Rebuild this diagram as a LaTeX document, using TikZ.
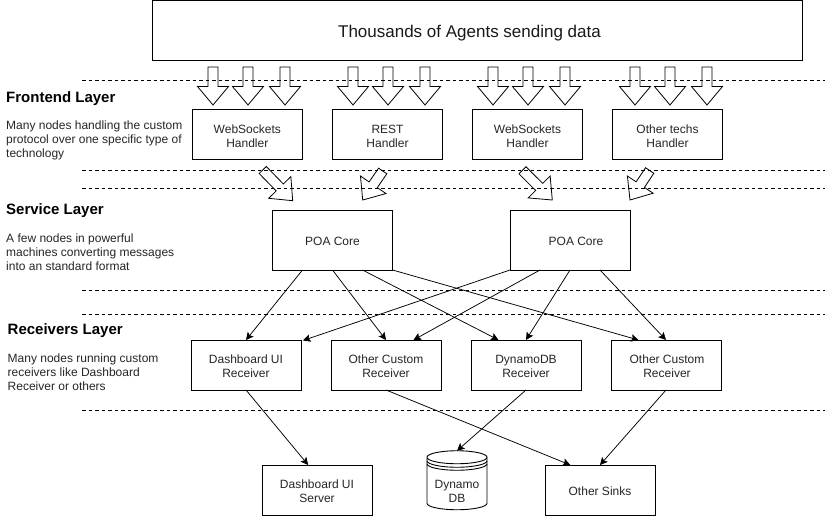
\documentclass[tikz,border=0pt]{standalone}
\usepackage{fontspec}
\setmainfont{Liberation Sans}
\usetikzlibrary{calc,arrows.meta}
\newcommand{\fatarrow}[2]{%
  \coordinate (neck) at ($(#2)!18.5pt!(#1)$);
  \draw[fatline] ($(#1)!5pt!90:(#2)$) -- ($(neck)!5pt!90:(#2)$) -- ($(neck)!15.5pt!90:(#2)$) -- (#2)
    -- ($(neck)!15.5pt!-90:(#2)$) -- ($(neck)!5pt!-90:(#2)$) -- ($(#1)!5pt!-90:(#2)$) -- cycle;}
\tikzset{
  x=1pt,y=-1pt,
  boxtext/.style={font=\fontsize{12}{14}\selectfont,align=center,inner sep=0pt,outer sep=0pt,text=black!85},
  tag/.style={label={[boxtext,yshift=-1.2pt]center:#1}},
  unitbox/.style={boxtext,draw=black,line width=1pt,minimum width=110pt,minimum height=50pt},
  corebox/.style={unitbox,minimum width=120pt,minimum height=60pt},
  titlebox/.style={unitbox,minimum width=650pt,minimum height=60pt},
  titletext/.style={font=\fontsize{17}{20}\selectfont,inner sep=0pt,text=black!90},
  heading/.style={anchor=west,inner sep=0pt,font=\fontsize{15}{17}\selectfont\bfseries,text=black},
  blurb/.style={anchor=west,inner sep=0pt,align=left,font=\fontsize{12}{14}\selectfont,text=black!85},
  fatline/.style={draw=black,line width=.8pt,line join=miter},
  sepline/.style={draw=black,line width=.8pt,dash pattern=on 3.5pt off 3pt},
  conn/.style={draw=black,line width=.75pt,-{Stealth[length=7.5pt,width=7.5pt,inset=1.5pt]}},
  dbline/.style={draw=black,line width=.9pt},
}
\begin{document}
\begin{tikzpicture}
\useasboundingbox[fill=white] (0,0) rectangle (825,516);

% separators
\foreach \n/\y in {a/80,b/170,c/188,d/290,e/314,f/410}{
  \coordinate (sl\n) at (82,\y);
  \coordinate (sr\n) at (825,\y);
  \draw[sepline] (sl\n) -- (sr\n);
}

% top box
\node[titlebox] (agents) at (477,30.5) {};
\node[titletext] (agentstext) at (469.5,33) {Thousands of Agents sending data};

% handlers
\node[unitbox,tag={WebSockets\\Handler}] (h1) at (247.3,135) {};
\node[unitbox,tag={REST\\Handler}] (h2) at (387.5,135) {};
\node[unitbox,tag={WebSockets\\Handler}] (h3) at (527.5,135) {};
\node[unitbox,tag={Other techs\\Handler}] (h4) at (667.5,135) {};

% cores
\node[corebox,tag={POA Core}] (c1) at (332.5,240) {};
\node[corebox,label={[boxtext,xshift=6pt,yshift=-1.2pt]center:POA Core}] (c2) at (570,240) {};

% receivers
\node[unitbox,tag={Dashboard UI\\Receiver}] (r1) at (246,365) {};
\node[unitbox,tag={Other Custom\\Receiver}] (r2) at (386,365) {};
\node[unitbox,tag={DynamoDB\\Receiver}] (r3) at (526,365) {};
\node[unitbox,label={[boxtext,xshift=1pt,yshift=-1.2pt]center:{Other Custom\\Receiver}}] (r4) at (666,365) {};

% sinks
\node[unitbox,tag={Dashboard UI\\Server}] (s1) at (317,490) {};
\node[unitbox,tag={Other Sinks}] (s3) at (600,490) {};
\node[inner sep=0pt,outer sep=0pt,minimum width=60pt,minimum height=59.5pt] (db) at (457,480.5) {};
\node[boxtext] (dbtext) at (457,491) {Dynamo\\DB};
\draw[dbline] (db.north west) ++(0,6.5) arc[start angle=180,end angle=360,x radius=30pt,y radius=6.5pt]
  arc[start angle=0,end angle=180,x radius=30pt,y radius=6.5pt]
  -- ++(0,46) arc[start angle=180,end angle=360,x radius=30pt,y radius=6.5pt]
  -- ++(0,-46);
\draw[dbline] (db.north west) ++(0,10) arc[start angle=180,end angle=360,x radius=30pt,y radius=6.5pt];
\draw[dbline] (db.north west) ++(0,13) arc[start angle=180,end angle=360,x radius=30pt,y radius=6.5pt];

% vertical block arrows
\foreach \n/\x in {1/213,2/248,3/285,4/353,5/388,6/425,7/493,8/528,9/565,10/635,11/670,12/707}{
  \coordinate (vt\n) at (\x,67);
  \coordinate (vh\n) at (\x,105);
  \fatarrow{vt\n}{vh\n}
}

% diagonal block arrows
\coordinate (dt1) at (262.7,170); \coordinate (dh1) at (292.7,200.7);
\coordinate (dt2) at (382.7,171); \coordinate (dh2) at (362.7,200);
\coordinate (dt3) at (522.5,170.3); \coordinate (dh3) at (552.3,200);
\coordinate (dt4) at (649.7,170.5); \coordinate (dh4) at (630,200);
\fatarrow{dt1}{dh1}
\fatarrow{dt2}{dh2}
\fatarrow{dt3}{dh3}
\fatarrow{dt4}{dh4}

% core to receiver connectors
\draw[conn] ($(c1.south west)!.25!(c1.south east)$) -- (r1.north);
\draw[conn] (c1.south) -- (r2.north);
\draw[conn] ($(c1.south west)!.75!(c1.south east)$) -- ($(r3.north west)!.25!(r3.north east)$);
\draw[conn] (c1.south east) -- ($(r4.north west)!.25!(r4.north east)$);
\draw[conn] (c2.south west) -- ($(r1.north east)+(2,0.5)$);
\draw[conn] ($(c2.south west)!.25!(c2.south east)$) -- ($(r2.north west)!.75!(r2.north east)$);
\draw[conn] (c2.south) -- (r3.north);
\draw[conn] ($(c2.south west)!.75!(c2.south east)$) -- (r4.north);

% receiver to sink connectors
\draw[conn] (r1.south) -- ($(s1.north west)!.42!(s1.north east)$);
\draw[conn] (r2.south) -- ($(s3.north west)!.23!(s3.north east)$);
\draw[conn] (r3.south) -- (db.north);
\draw[conn] (r4.south) -- (s3.north);

% left text
\node[heading] (lay1) at (6,99) {Frontend Layer};
\node[blurb] (txt1) at (6,140.5) {Many nodes handling the custom\\protocol over one specific type of\\technology};
\node[heading] (lay2) at (6,211) {Service Layer};
\node[blurb] (txt2) at (6,252.5) {A few nodes in powerful\\machines converting messages\\into an standard format};
\node[heading] (lay3) at (7.5,331) {Receivers Layer};
\node[blurb] (txt3) at (7.5,372.5) {Many nodes running custom\\receivers like Dashboard\\Receiver or others};
\end{tikzpicture}
\end{document}
